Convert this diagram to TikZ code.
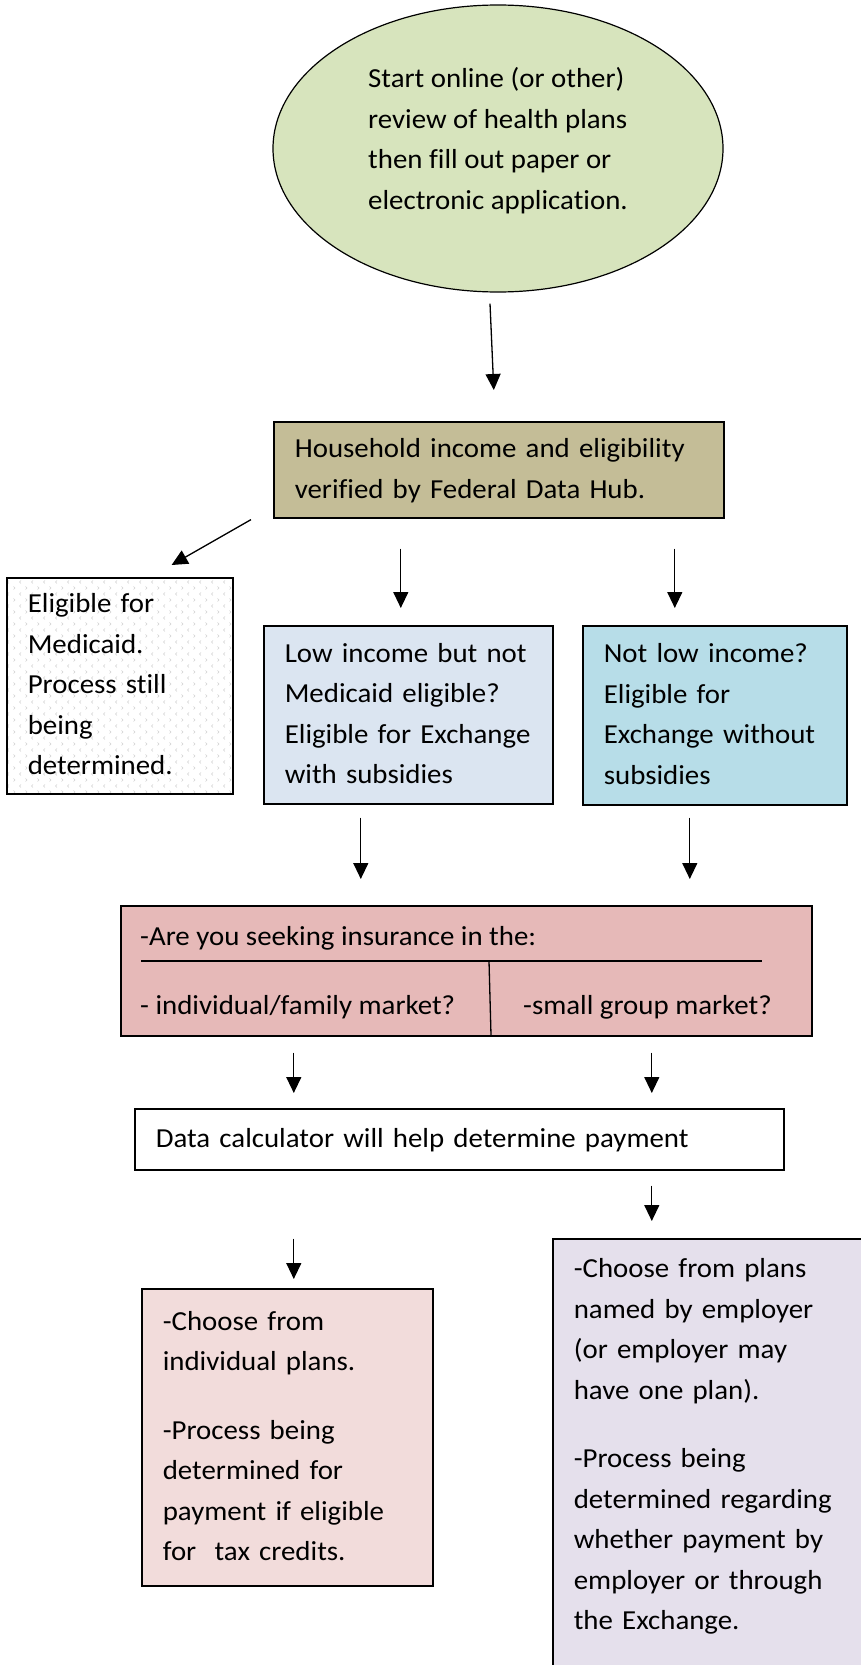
\documentclass[tikz,border=0pt]{standalone}
\usepackage{fontspec}
\setmainfont{Carlito}[FakeStretch=1.05, Ligatures=NoCommon]
\usepackage{tikz}
\usetikzlibrary{shapes.geometric,arrows.meta,patterns.meta}

\definecolor{startgreen}{HTML}{D7E4BD}
\definecolor{hubtan}{HTML}{C4BD97}
\definecolor{lowblue}{HTML}{DBE5F1}
\definecolor{notlowblue}{HTML}{B7DDE8}
\definecolor{marketpink}{HTML}{E6B9B8}
\definecolor{indivpink}{HTML}{F2DCDB}
\definecolor{employerlilac}{HTML}{E5E0EC}

\tikzdeclarepattern{
	name=chevrons,
	type=uncolored,
	bottom left={(-.5pt,-.5pt)},
	top right={(12.5pt,12.5pt)},
	tile size={(12pt,12pt)},
	code={
		\draw[line width=.5pt] (1.5pt,7.5pt) -- (3pt,9pt) -- (1.5pt,10.5pt);
		\draw[line width=.5pt] (9pt,1.5pt) -- (7.5pt,3pt) -- (9pt,4.5pt);
	}
}

\begin{document}
\begin{tikzpicture}[x=1pt, y=-1pt,
	font=\fontsize{27.5}{40.5}\selectfont,
	box/.style={rectangle, draw, line width=1.6pt, anchor=north west, inner xsep=21pt, inner ysep=0pt, align=left, execute at begin node=\strut, execute at end node=\strut},
	arr/.style={line width=1.3pt, -{Triangle[width=15pt,length=16pt]}},
	lbl/.style={anchor=base west, inner sep=0pt}]
	\path[use as bounding box, fill=white] (0,0) rectangle (860,1665);

	\node[ellipse, draw, line width=1.2pt, fill=startgreen, minimum width=450pt, minimum height=287pt, inner sep=0pt, align=left] (start) at (498,148.5) {\strut Start online (or other)\\review of health plans\\then fill out paper or\\electronic application.\rule[-28pt]{0pt}{0pt}};
	\node[box, fill=hubtan, minimum width=450pt, minimum height=96pt, text width=408pt] (hub) at (273,421) {Household income and eligibility\\verified by Federal Data Hub.};
	\node[box, pattern=chevrons, pattern color=black!18, minimum width=226pt, minimum height=216pt, text width=184pt] (medicaid) at (6,577) {Eligible for\\Medicaid.\\Process still\\being\\determined.};
	\node[box, fill=lowblue, minimum width=289pt, minimum height=178pt, text width=247pt] (low) at (263,625) {Low income but not\\Medicaid eligible?\\Eligible for Exchange\\with subsidies};
	\node[box, fill=notlowblue, minimum width=264pt, minimum height=179pt, text width=222pt] (notlow) at (582,625) {Not low income?\\Eligible for\\Exchange without\\subsidies};
	\node[rectangle, draw, line width=1.6pt, fill=marketpink, anchor=north west, minimum width=691pt, minimum height=130pt, inner sep=0pt] (market) at (120,905) {};
	\node[lbl] (askq) at (140,945) {-Are you seeking insurance in the:};
	\node[lbl] (indmkt) at (140,1014) {- individual/family market?};
	\node[lbl] (grpmkt) at (523,1014) {-small group market?};
	\node[box, fill=white, minimum width=649pt, minimum height=61pt, text width=607pt] (calc) at (134,1108) {Data calculator will help determine payment};
	\node[box, fill=indivpink, minimum width=291pt, minimum height=297pt, text width=249pt] (indiv) at (141,1288) {-Choose from\\individual plans.\\[28pt]-Process being\\determined for\\payment if eligible\\for~ tax credits.};
	\node[box, fill=employerlilac, minimum width=320pt, minimum height=454pt, text width=278pt] (employer) at (552,1238) {-Choose from plans\\named by employer\\(or employer may\\have one plan).\\[28pt]-Process being\\determined regarding\\whether payment by\\employer or through\\the Exchange.\\};

	\draw[line width=1.3pt] (141,961) -- (762,961);
	\draw[line width=1.3pt] (489,961) -- (491,1035);

	\draw[arr] ([xshift=-8pt,yshift=-11pt]start.south) -- ([xshift=-5pt,yshift=31pt]hub.north);
	\draw[arr] ([xshift=-22pt,yshift=-1pt]hub.south west) -- ([xshift=-62pt,yshift=12pt]medicaid.north east);
	\draw[arr] ([xshift=-98pt,yshift=-30pt]hub.south) -- ([xshift=-7.5pt,yshift=17pt]low.north);
	\draw[arr] ([xshift=176pt,yshift=-30pt]hub.south) -- ([xshift=-40pt,yshift=17pt]notlow.north);
	\draw[arr] ([xshift=-47.5pt,yshift=-13pt]low.south) -- ([xshift=-105.5pt,yshift=26pt]market.north);
	\draw[arr] ([xshift=-25pt,yshift=-12pt]notlow.south) -- ([xshift=223.5pt,yshift=26pt]market.north);
	\draw[arr] ([xshift=-172.5pt,yshift=-16pt]market.south) -- ([xshift=-165.5pt,yshift=15pt]calc.north);
	\draw[arr] ([xshift=185.5pt,yshift=-16pt]market.south) -- ([xshift=192.5pt,yshift=15pt]calc.north);
	\draw[arr] ([xshift=192.5pt,yshift=-15pt]calc.south) -- ([xshift=-61pt,yshift=17pt]employer.north);
	\draw[arr] ([xshift=-165.5pt,yshift=-68pt]calc.south) -- ([xshift=6.5pt,yshift=9pt]indiv.north);
\end{tikzpicture}
\end{document}
